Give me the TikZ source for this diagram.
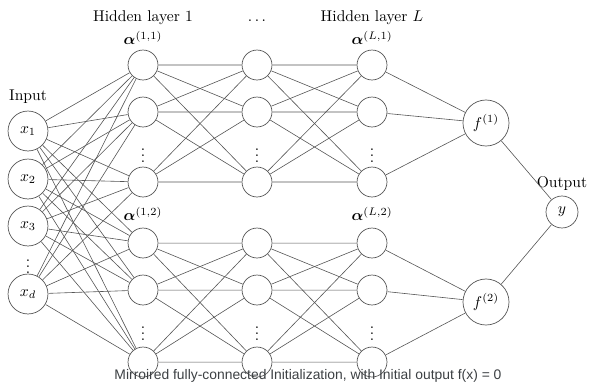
\documentclass[tikz,border=0pt]{standalone}
\usepackage{bm}
\usepackage{fontspec}
\newfontfamily\capfont{Liberation Sans}
\definecolor{edgegray}{HTML}{555555}
\definecolor{captext}{HTML}{3C4043}
\begin{document}
% coordinates are given in output points; scale enlarges text and shapes
\begin{tikzpicture}[x=0.641pt,y=-0.641pt,scale=1.56,
  every node/.append style={transform shape},
  neuron/.style={circle,draw=edgegray,line width=0.7pt,inner sep=0pt},
  innode/.style={neuron,minimum size=25.6pt},
  hidnode/.style={neuron,minimum size=19.2pt},
  fnode/.style={neuron,minimum size=29.5pt},
  outnode/.style={neuron,minimum size=20.5pt},
  lbl/.style={inner sep=0pt},
  head/.style={inner sep=0pt,anchor=base},
  conn/.style={draw=edgegray,line width=0.6pt}]
\useasboundingbox (0,0) rectangle (589,386);

% input layer
\node[innode] (x1) at (28,131) {$x_1$};
\node[innode] (x2) at (28,179) {$x_2$};
\node[innode] (x3) at (28,226) {$x_3$};
\node[lbl] (xdots) at (28,262) {$\vdots$};
\node[innode] (xd) at (28,294) {$x_d$};

% hidden columns: two mirrored groups
\foreach \c/\xx in {1/143,2/257,3/372}{
  \node[hidnode] (a\c) at (\xx,65) {};
  \node[hidnode] (b\c) at (\xx,112) {};
  \node[lbl] (d\c) at (\xx,151) {$\vdots$};
  \node[hidnode] (c\c) at (\xx,182) {};
  \node[hidnode] (p\c) at (\xx,243) {};
  \node[hidnode] (q\c) at (\xx,290) {};
  \node[lbl] (e\c) at (\xx,329) {$\vdots$};
  \node[hidnode] (r\c) at (\xx,362) {};
}

% output units
\node[fnode] (f1) at (486,123) {$f^{(1)}$};
\node[fnode] (f2) at (486,302) {$f^{(2)}$};
\node[outnode] (y) at (562,212) {$y$};

% labels
\node[lbl] (tin) at (28,97) {Input};
\node[lbl] (tout) at (562,184) {Output};
\node[head] (th1) at (143,21) {Hidden layer 1};
\node[head] (thd) at (257,21) {$\ldots$};
\node[head] (thL) at (372,21) {Hidden layer $L$};
\node[lbl] (al11) at (143,38) {$\bm{\alpha}^{(1,1)}$};
\node[lbl] (alL1) at (372,38) {$\bm{\alpha}^{(L,1)}$};
\node[lbl] (al12) at (143,214) {$\bm{\alpha}^{(1,2)}$};
\node[lbl] (alL2) at (372,214) {$\bm{\alpha}^{(L,2)}$};

% input to first hidden layer (both groups)
\foreach \i in {x1,x2,x3,xd}
  \foreach \h in {a1,b1,c1,p1,q1,r1}
    \draw[conn] (\i) -- (\h);

% hidden to hidden, within each group
\foreach \s/\t in {1/2,2/3}{
  \foreach \u in {a,b,c}
    \foreach \v in {a,b,c}
      \draw[conn] (\u\s) -- (\v\t);
  \foreach \u in {p,q,r}
    \foreach \v in {p,q,r}
      \draw[conn] (\u\s) -- (\v\t);
}

% last hidden layer to outputs
\foreach \u in {a3,b3,c3} \draw[conn] (\u) -- (f1);
\foreach \u in {p3,q3,r3} \draw[conn] (\u) -- (f2);
\draw[conn] (f1) -- (y);
\draw[conn] (f2) -- (y);

% caption
\node[inner sep=0pt,text=captext,font=\capfont\fontsize{8.9}{10}\selectfont] (cap) at (308,376)
  {Mirroired fully-connected Initialization, with Initial output f(x) = 0};
\end{tikzpicture}
\end{document}
